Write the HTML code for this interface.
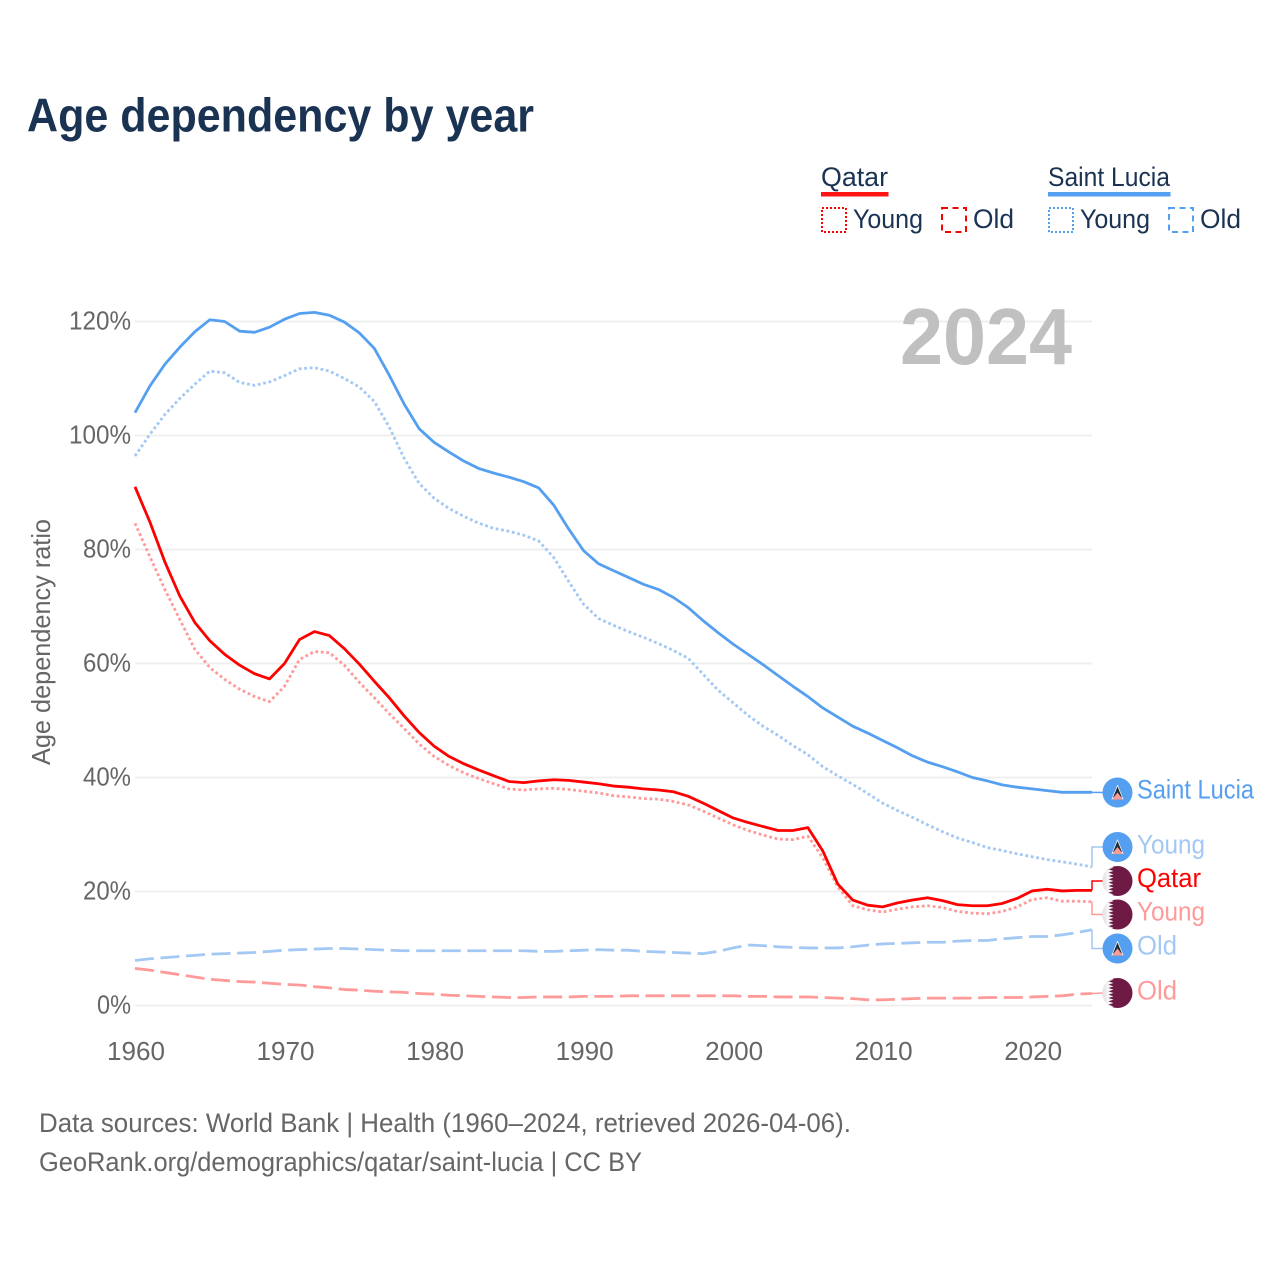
<!DOCTYPE html>
<html lang="en">
<head>
<meta charset="utf-8">
<title>Age dependency by year</title>
<style>
html,body{margin:0;padding:0;background:#fff;width:1280px;height:1280px;overflow:hidden}
svg{display:block}
text{font-family:"Liberation Sans","DejaVu Sans",sans-serif}
</style>
</head>
<body>
<svg id="chart" xmlns="http://www.w3.org/2000/svg" width="1280" height="1280" viewBox="0 0 1280 1280">
  <defs>
    <clipPath id="flag-clip"><circle cx="0" cy="0" r="15"/></clipPath>
  </defs>
  <rect width="1280" height="1280" fill="#fff"/>
  <text x="27" y="131.500" font-size="47" font-weight="700" fill="#1a3353" textLength="507" lengthAdjust="spacingAndGlyphs">Age dependency by year</text>

  <g>
    <text x="821" y="186" font-size="27" fill="#1a3353" textLength="67" lengthAdjust="spacingAndGlyphs">Qatar</text>
    <rect x="821" y="192" width="67.500" height="4.500" fill="#ff1414"/>
    <rect x="822" y="208" width="24" height="24" fill="none" stroke="#ff0000" stroke-width="2" stroke-dasharray="2 2"/>
    <text x="853" y="228" font-size="27" fill="#1a3353" textLength="70" lengthAdjust="spacingAndGlyphs">Young</text>
    <rect x="942" y="208" width="24" height="24" fill="none" stroke="#ff0000" stroke-width="2" stroke-dasharray="6 4.500"/>
    <text x="973" y="228" font-size="27" fill="#1a3353" textLength="41" lengthAdjust="spacingAndGlyphs">Old</text>

    <text x="1048" y="186" font-size="27" fill="#1a3353" textLength="122" lengthAdjust="spacingAndGlyphs">Saint Lucia</text>
    <rect x="1048" y="192" width="122.500" height="4.500" fill="#559ff0"/>
    <rect x="1049" y="208" width="24" height="24" fill="none" stroke="#559ff0" stroke-width="2" stroke-dasharray="2 2"/>
    <text x="1080" y="228" font-size="27" fill="#1a3353" textLength="70" lengthAdjust="spacingAndGlyphs">Young</text>
    <rect x="1169" y="208" width="24" height="24" fill="none" stroke="#559ff0" stroke-width="2" stroke-dasharray="6 4.500"/>
    <text x="1200" y="228" font-size="27" fill="#1a3353" textLength="41" lengthAdjust="spacingAndGlyphs">Old</text>
  </g>

  <g id="grid"></g>
  <text x="900" y="364" font-size="80" font-weight="700" fill="#c0c0c0" textLength="172" lengthAdjust="spacingAndGlyphs">2024</text>
  <g id="y-ticks"></g>
  <g id="x-ticks"></g>
  <text transform="translate(50,642) rotate(-90)" text-anchor="middle" font-size="26" fill="#666" textLength="246" lengthAdjust="spacingAndGlyphs">Age dependency ratio</text>
  <g id="series"></g>
  <g id="end-labels"></g>

  <text x="39" y="1132" font-size="27" fill="#666" textLength="812" lengthAdjust="spacingAndGlyphs">Data sources: World Bank | Health (1960–2024, retrieved 2026-04-06).</text>
  <text x="39" y="1171" font-size="27" fill="#666" textLength="603" lengthAdjust="spacingAndGlyphs">GeoRank.org/demographics/qatar/saint-lucia | CC BY</text>
</svg>
<script>
const startYear = 1960;
const xTickYears = [1960, 1970, 1980, 1990, 2000, 2010, 2020];
const yTickValues = [0, 20, 40, 60, 80, 100, 120];

const saintLuciaTotal = [104.0,108.7,112.5,115.5,118.2,120.3,120.0,118.3,118.1,119.0,120.4,121.4,121.6,121.1,119.9,118.0,115.3,110.6,105.5,101.2,98.8,97.1,95.5,94.2,93.4,92.7,91.9,90.8,87.8,83.6,79.8,77.5,76.3,75.1,73.9,73.0,71.6,69.8,67.5,65.4,63.4,61.6,59.8,57.9,56.0,54.2,52.2,50.6,49.0,47.8,46.5,45.2,43.8,42.7,41.9,41.0,40.0,39.4,38.7,38.3,38.0,37.7,37.4,37.4,37.4];
const saintLuciaYoung = [96.4,100.2,103.7,106.5,109.0,111.3,111.0,109.3,108.8,109.4,110.5,111.7,111.9,111.3,110.0,108.5,106.0,101.5,96.0,91.6,89.0,87.2,85.8,84.6,83.7,83.2,82.5,81.5,78.6,74.4,70.4,67.9,66.7,65.6,64.6,63.5,62.3,60.9,58.1,55.3,53.1,50.9,49.0,47.4,45.6,44.0,41.9,40.3,38.8,37.2,35.5,34.2,33.0,31.7,30.5,29.4,28.6,27.7,27.2,26.6,26.1,25.6,25.2,24.8,24.3];
const saintLuciaOld = [7.9,8.2,8.4,8.6,8.8,9.0,9.1,9.2,9.3,9.5,9.7,9.8,9.9,10.0,10.0,9.9,9.8,9.7,9.6,9.6,9.6,9.6,9.6,9.6,9.6,9.6,9.6,9.5,9.5,9.6,9.7,9.8,9.7,9.7,9.5,9.4,9.3,9.2,9.1,9.5,10.1,10.6,10.5,10.3,10.2,10.1,10.1,10.1,10.3,10.6,10.8,10.9,11.0,11.1,11.1,11.3,11.4,11.4,11.7,11.9,12.1,12.1,12.4,12.8,13.3];
const qatarTotal = [91.0,84.8,77.8,71.8,67.2,64.0,61.6,59.7,58.2,57.3,60.0,64.2,65.6,64.9,62.6,59.9,56.9,54.0,50.8,47.9,45.5,43.7,42.4,41.3,40.3,39.3,39.1,39.4,39.6,39.5,39.2,38.9,38.5,38.3,38.0,37.8,37.5,36.7,35.5,34.2,32.9,32.1,31.4,30.7,30.7,31.2,27.1,21.3,18.5,17.6,17.3,18.0,18.5,18.9,18.4,17.7,17.5,17.5,17.9,18.8,20.1,20.4,20.1,20.2,20.2];
const qatarYoung = [84.6,78.7,73.0,67.7,62.5,59.3,57.2,55.5,54.2,53.3,56.0,60.7,62.1,61.9,59.7,56.7,54.0,51.2,48.6,45.9,43.7,42.1,40.8,39.8,38.9,38.0,37.8,38.0,38.1,37.9,37.6,37.3,36.8,36.6,36.3,36.2,35.8,35.2,34.1,32.9,31.7,30.7,29.9,29.2,29.1,29.7,25.9,20.8,17.5,16.8,16.4,16.9,17.3,17.5,17.2,16.5,16.2,16.1,16.5,17.3,18.6,18.9,18.3,18.3,18.2];
const qatarOld = [6.5,6.2,5.8,5.4,5.0,4.6,4.4,4.2,4.1,3.9,3.7,3.6,3.3,3.1,2.8,2.7,2.5,2.4,2.3,2.1,2.0,1.8,1.7,1.6,1.5,1.4,1.4,1.5,1.5,1.5,1.6,1.6,1.6,1.7,1.7,1.7,1.7,1.7,1.7,1.7,1.7,1.6,1.6,1.5,1.5,1.5,1.4,1.3,1.2,1.0,1.0,1.1,1.2,1.3,1.3,1.3,1.3,1.4,1.4,1.4,1.5,1.6,1.7,2.0,2.1];

const NS = 'http://www.w3.org/2000/svg';
const xScale = function (year) { return 135 + (year - 1960) * (1092 - 135) / 64; };
const yScale = function (value) { return 1005.5 - value * 5.7; };
const BLUE = '#559ff0', LBLUE = '#a3c8f3', RED = '#ff0000', LRED = '#ff9a9a';
const DOT = '2.8 2.7', DASH = '19 6.6';

function make(tag, attrs, parent, text) {
  const el = document.createElementNS(NS, tag);
  for (const k in attrs) el.setAttribute(k, attrs[k]);
  if (text !== undefined) el.textContent = text;
  parent.appendChild(el);
  return el;
}

const grid = document.getElementById('grid');
const yTicks = document.getElementById('y-ticks');
yTickValues.forEach(function (v) {
  const line = make('line', { x1: 135, x2: 1092, y1: yScale(v), y2: yScale(v), stroke: '#eeeeee', 'stroke-width': 1.700 }, grid);
  
  
  const label = make('text', { x: 131, y: yScale(v) + 8, 'text-anchor': 'end', 'font-size': 26, fill: '#666', textLength: v >= 100 ? 62 : (v > 0 ? 48 : 34), lengthAdjust: 'spacingAndGlyphs' }, yTicks, v + '%');
  
  
});

const xTicks = document.getElementById('x-ticks');
xTickYears.forEach(function (yr) {
  const label = make('text', { x: xScale(yr) + 1, y: 1060, 'text-anchor': 'middle', 'font-size': 26, fill: '#666', textLength: 58, lengthAdjust: 'spacingAndGlyphs' }, xTicks, String(yr));
  
  
});

const seriesG = document.getElementById('series');
function drawSeries(values, color, dash, name) {
  const pts = values.map(function (v, i) { return xScale(startYear + i).toFixed(2) + ',' + yScale(v).toFixed(2); }).join(' ');
  const attrs = { points: pts, fill: 'none', stroke: color, 'stroke-width': 2.800, 'stroke-linejoin': 'round' };
  if (dash) attrs['stroke-dasharray'] = dash;
  const line = make('polyline', attrs, seriesG);
  
  
}
drawSeries(saintLuciaOld, LBLUE, DASH, 'saint-lucia-old-line');
drawSeries(qatarOld, LRED, DASH, 'qatar-old-line');
drawSeries(saintLuciaYoung, LBLUE, DOT, 'saint-lucia-young-line');
drawSeries(qatarYoung, LRED, DOT, 'qatar-young-line');
drawSeries(saintLuciaTotal, BLUE, null, 'saint-lucia-total-line');
drawSeries(qatarTotal, RED, null, 'qatar-total-line');

const endG = document.getElementById('end-labels');
function last(arr) { return arr[arr.length - 1]; }

function drawFlag(country, cy, name) {
  const g = make('g', { transform: 'translate(1117.5,' + cy + ')' }, endG);
  
  
  const inner = make('g', { 'clip-path': 'url(#flag-clip)' }, g);
  if (country === 'lc') {
    make('rect', { x: -15, y: -15, width: 30, height: 30, fill: '#559ff0' }, inner);
    make('polygon', { points: '0,-8 6,7 -6,7', fill: '#fff' }, inner);
    make('polygon', { points: '0,-6 4.500,5 -4.500,5', fill: '#1f2a38' }, inner);
    make('polygon', { points: '0,0 5.500,7 -5.500,7', fill: '#fb9b95' }, inner);
  } else {
    make('rect', { x: -15, y: -15, width: 30, height: 30, fill: '#6e1a45' }, inner);
    let pts = '-15,-15';
    for (let k = 0; k < 9; k++) {
      const y0 = -15 + k * 30 / 9;
      pts += ' -9,' + y0.toFixed(2) + ' -4,' + (y0 + 15 / 9).toFixed(2);
    }
    pts += ' -9,15 -15,15';
    make('polygon', { points: pts, fill: '#f6f6f6' }, inner);
    make('rect', { x: -15, y: -15, width: 4, height: 30, fill: '#e8e8e8' }, inner);
  }
}

function drawEnd(values, stroke, labelY, text, width, color, country, name, baselineY) {
  const ey = yScale(last(values));
  const attrs = { points: '1092,' + ey.toFixed(2) + ' 1092,' + labelY + ' 1104,' + labelY, fill: 'none', stroke: stroke, 'stroke-width': 1.500 };
  if (Math.abs(ey - labelY) < 2) attrs.points = '1092,' + ey.toFixed(2) + ' 1104,' + labelY;
  const leader = make('polyline', attrs, endG);
  
  
  drawFlag(country, labelY, name + '-flag');
  const label = make('text', { x: 1137, y: baselineY, 'font-size': 27, fill: color, textLength: width, lengthAdjust: 'spacingAndGlyphs' }, endG, text);
  
  
}
drawEnd(qatarOld, LRED, 993, 'Old', 40, LRED, 'qa', 'qatar-old', 999.5);
drawEnd(saintLuciaOld, LBLUE, 948.5, 'Old', 40, LBLUE, 'lc', 'saint-lucia-old', 954.5);
drawEnd(qatarYoung, LRED, 914.5, 'Young', 68, LRED, 'qa', 'qatar-young', 920.5);
drawEnd(qatarTotal, RED, 881, 'Qatar', 64, RED, 'qa', 'qatar-total', 887);
drawEnd(saintLuciaYoung, LBLUE, 847, 'Young', 68, LBLUE, 'lc', 'saint-lucia-young', 853.5);
drawEnd(saintLuciaTotal, BLUE, 792.5, 'Saint Lucia', 117, BLUE, 'lc', 'saint-lucia-total', 798.5);
</script>
</body>
</html>
